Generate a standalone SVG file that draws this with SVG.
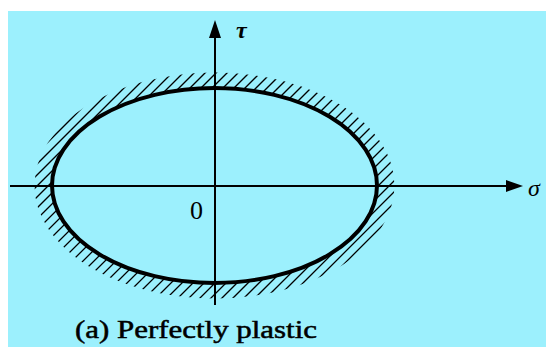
<svg xmlns="http://www.w3.org/2000/svg" width="546" height="347" viewBox="0 0 546 347">
<style>
.axis{stroke:#000;stroke-width:2;fill:none}
.hatch{stroke:#000;stroke-width:1.3;fill:none}
.lbl{font-family:"Liberation Serif",serif;fill:#000}
</style>
<defs>
<mask id="band">
<rect x="0" y="0" width="546" height="347" fill="#000"/>
<ellipse cx="214.5" cy="185.5" rx="180" ry="113" fill="#fff"/>
<ellipse cx="214.5" cy="185.5" rx="162.5" ry="97.5" fill="#000"/>
</mask>
</defs>
<rect x="0" y="0" width="546" height="347" fill="#fff"/>
<rect x="8" y="11" width="538" height="336" fill="#9cf0fd"/>
<g id="hatching" mask="url(#band)">
<path class="hatch" d="M190,0l-347,347M201,0l-347,347M212,0l-347,347M223,0l-347,347M234,0l-347,347M245,0l-347,347M256,0l-347,347M267,0l-347,347M278,0l-347,347M289,0l-347,347M300,0l-347,347M311,0l-347,347M322,0l-347,347M333,0l-347,347M344,0l-347,347M355,0l-347,347M366,0l-347,347M377,0l-347,347M388,0l-347,347M399,0l-347,347M410,0l-347,347M421,0l-347,347M432,0l-347,347M443,0l-347,347M454,0l-347,347M465,0l-347,347M476,0l-347,347M487,0l-347,347M498,0l-347,347M509,0l-347,347M520,0l-347,347M531,0l-347,347M542,0l-347,347M553,0l-347,347M564,0l-347,347M575,0l-347,347M586,0l-347,347M597,0l-347,347M608,0l-347,347M619,0l-347,347"/>
</g>
<g id="connectors">
<line class="axis" x1="10" y1="186" x2="508" y2="186"/>
<polygon points="523,186 506,180 506,192" fill="#000"/>
<line class="axis" x1="215" y1="36" x2="215" y2="305"/>
<polygon points="215,20 209,38 221,38" fill="#000"/>
</g>
<g id="ellipse">
<ellipse cx="214.5" cy="185.5" rx="162.5" ry="97.5" fill="none" stroke="#000" stroke-width="4"/>
</g>
<g id="labels">
<text class="lbl" x="236" y="38" font-size="24" font-style="italic" font-weight="bold">τ</text>
<text class="lbl" x="528" y="196" font-size="24" font-style="italic">σ</text>
<text class="lbl" x="190" y="219" font-size="26" font-family="Liberation Sans,sans-serif">0</text>
<text class="lbl" x="75" y="338" font-size="25" stroke="#000" stroke-width="0.5" textLength="242" lengthAdjust="spacingAndGlyphs">(a) Perfectly plastic</text>
</g>
</svg>
